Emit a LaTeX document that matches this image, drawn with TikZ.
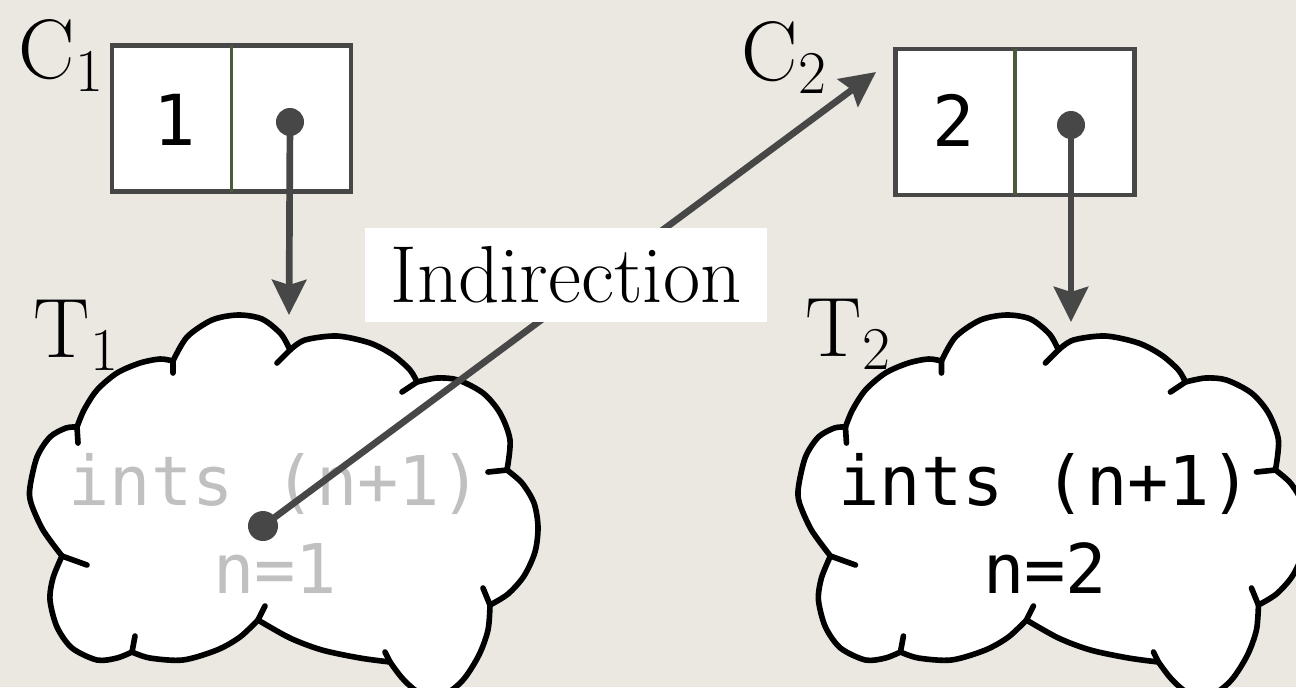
\documentclass[tikz,border=0pt]{standalone}
\usepackage{fontspec}
\setmonofont{DejaVu Sans Mono}
\usetikzlibrary{arrows.meta}

\definecolor{paper}{RGB}{234,232,225}
\definecolor{ptrgrey}{RGB}{71,71,71}
\definecolor{divgreen}{RGB}{74,90,58}
\definecolor{fadedtext}{RGB}{192,192,192}

% one thunk cloud, drawn in pixel units
\newcommand{\thunkcloud}{%
  \filldraw[cloudline, fill=white]
    plot[smooth] coordinates {(173,361) (187,337) (212,320) (238,315) (262,319) (281,334) (290,350)}
    -- plot[smooth] coordinates {(290,350) (305,340) (337,336) (370,343) (393,355) (410,370) (417,382)}
    -- plot[smooth] coordinates {(417,382) (437,378) (458,380) (483,393) (500,413) (510,440) (507,470)}
    -- plot[smooth] coordinates {(507,470) (522,483) (534,503) (538,527) (535,552) (524,576) (508,594) (490,605)}
    -- plot[smooth] coordinates {(490,605) (488,630) (479,655) (463,680) (443,695) (420,693) (403,679) (390,662)}
    -- plot[smooth] coordinates {(390,662) (360,658) (322,650) (290,638) (258,620)}
    -- plot[smooth] coordinates {(258,620) (240,637) (217,650) (183,660) (150,658) (132,652)}
    -- plot[smooth] coordinates {(132,652) (117,658) (97,660) (72,648) (57,627) (50,600) (53,578) (62,556)}
    -- plot[smooth] coordinates {(62,556) (43,530) (31,503) (30,487) (37,457) (50,437) (66,428) (77,427)}
    -- plot[smooth] coordinates {(77,427) (84,410) (97,390) (117,373) (140,363) (160,359) (173,361)}
    -- cycle;
  % little curls where the puffs meet
  \draw[cloudline] (173,361) -- (173,373) (290,350) -- (277,363) (417,382) -- (402,392)
    (507,470) -- (488,472) (490,605) -- (483,588) (390,662) -- (385,652)
    (258,620) -- (265,606) (132,652) -- (135,636) (62,556) -- (87,565) (77,427) -- (78,443);
}

\begin{document}
\begin{tikzpicture}[x=0.01cm, y=-0.01cm,
    cons/.style={draw=ptrgrey, line width=1.3pt, fill=white, inner sep=0pt,
      minimum width=2.39cm, minimum height=1.46cm},
    divider/.style={draw=divgreen, line width=1pt, shorten <=0.6pt, shorten >=0.6pt},
    val/.style={font=\ttfamily\fontsize{20}{24}\selectfont, inner sep=0pt},
    dot/.style={circle, fill=ptrgrey, inner sep=0pt, minimum size=0.28cm},
    ptr/.style={draw=ptrgrey, line width=1.9pt, -{Stealth[length=3.5mm,width=3.4mm,inset=0.5mm]}},
    cloudline/.style={draw=black, line width=1.6pt, line join=round, line cap=round},
    code/.style={font=\ttfamily\fontsize{19.5}{25}\selectfont, align=center, anchor=base, inner sep=0pt},
    lbl/.style={font=\fontsize{24}{28}\selectfont, anchor=base west, inner sep=0pt},
    tag/.style={fill=white, font=\fontsize{23}{27}\selectfont, inner sep=0pt,
      minimum width=4.02cm, minimum height=0.94cm}]

    % --- Paper ---
    \useasboundingbox (0,0) rectangle (1296,687);
    \clip (0,0) rectangle (1296,687);
    \fill[paper] (0,0) rectangle (1296,687);

    % --- Cons cell C1 ---
    \node[cons] (c1box) at (231.5,118.5) {};
    \draw[divider] (c1box.north) -- (c1box.south);
    \node[val] (c1val) at (175,120) {1};
    \node[dot] (c1dot) at (290,122) {};
    \node[lbl] (c1name) at (18,78) {C$_1$};

    % --- Cons cell C2 ---
    \node[cons] (c2box) at (1015,122) {};
    \draw[divider] (c2box.north) -- (c2box.south);
    \node[val] (c2val) at (954,120) {2};
    \node[dot] (c2dot) at (1071,125) {};
    \node[lbl] (c2name) at (741,80) {C$_2$};

    % --- Thunk T1 (already evaluated) ---
    \thunkcloud
    \node[code, text=fadedtext] (t1code) at (275,593) {ints (n+1)\\n=1};
    \node[lbl] (t1name) at (33,357) {T$_1$};
    \node[dot, minimum size=0.3cm] (t1dot) at (263,526) {};

    % --- Thunk T2 ---
    \begin{scope}[xshift=7.68cm]
      \thunkcloud
    \end{scope}
    \node[code] (t2code) at (1045,593) {ints (n+1)\\n=2};
    \node[lbl] (t2name) at (805,356) {T$_2$};

    % --- Pointers ---
    \coordinate (t1top) at (289,315);
    \coordinate (t2top) at (1071,322);
    \coordinate (c2entry) at (876,72);
    \draw[ptr] (c1dot.center) -- (t1top);
    \draw[ptr] (c2dot.center) -- (t2top);
    \draw[ptr] (t1dot.center) -- (c2entry);

    % Indirection label sits over the pointer
    \node[tag] (indir) at (566,275) {Indirection};

\end{tikzpicture}
\end{document}
